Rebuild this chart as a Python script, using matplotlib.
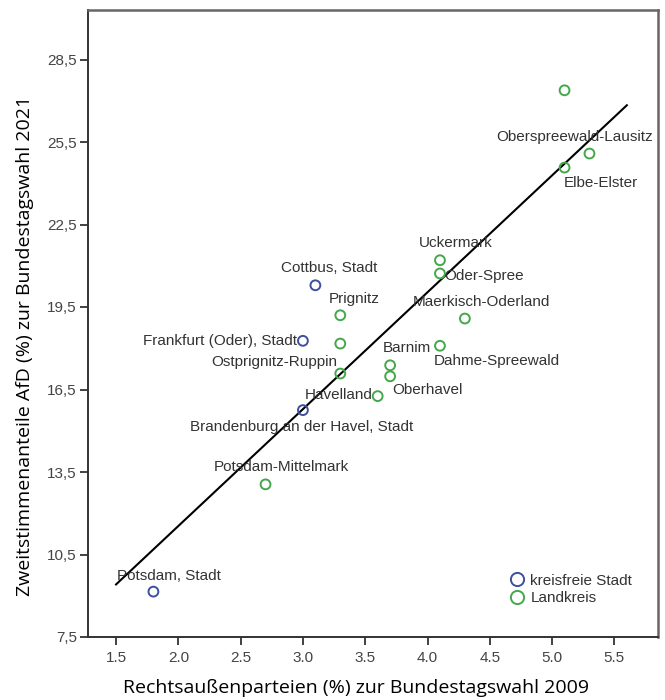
import numpy as np
import matplotlib
matplotlib.use("Agg")
import matplotlib.pyplot as plt
from matplotlib.lines import Line2D

# values
stadt_names = ["Potsdam, Stadt", "Brandenburg an der Havel, Stadt",
               "Frankfurt (Oder), Stadt", "Cottbus, Stadt"]
stadt_x = [1.8, 3.0, 3.0, 3.1]
stadt_y = [9.15, 15.75, 18.27, 20.29]

kreis_names = ["Potsdam-Mittelmark", "Havelland", "Ostprignitz-Ruppin", "",
               "Prignitz", "Oberhavel", "Barnim", "Dahme-Spreewald",
               "Maerkisch-Oderland", "Oder-Spree", "Uckermark", "Elbe-Elster",
               "Oberspreewald-Lausitz", ""]
kreis_x = [2.7, 3.6, 3.3, 3.3, 3.3, 3.7, 3.7, 4.1, 4.3, 4.1, 4.1, 5.1, 5.3, 5.1]
kreis_y = [13.05, 16.26, 17.08, 18.17, 19.2, 16.98, 17.38, 18.09, 19.08,
           20.72, 21.2, 24.57, 25.08, 27.38]

x_ticks = [1.5, 2.0, 2.5, 3.0, 3.5, 4.0, 4.5, 5.0, 5.5]
x_ticklabels = ["1.5", "2.0", "2.5", "3.0", "3.5", "4.0", "4.5", "5.0", "5.5"]
y_ticks = [7.5, 10.5, 13.5, 16.5, 19.5, 22.5, 25.5, 28.5]
y_ticklabels = ["7,5", "10,5", "13,5", "16,5", "19,5", "22,5", "25,5", "28,5"]

# label placement (offset in pixels, alignment)
LABEL_POS = {
    "Potsdam, Stadt": (16, 16, "center"),
    "Brandenburg an der Havel, Stadt": (-1, -17, "center"),
    "Frankfurt (Oder), Stadt": (-6, 0, "right"),
    "Cottbus, Stadt": (14, 17, "center"),
    "Potsdam-Mittelmark": (16, 17, "center"),
    "Havelland": (-5, 1, "right"),
    "Ostprignitz-Ruppin": (-3, 12, "right"),
    "Prignitz": (14, 16, "center"),
    "Oberhavel": (37, -14, "center"),
    "Barnim": (17, 17, "center"),
    "Dahme-Spreewald": (57, -15, "center"),
    "Maerkisch-Oderland": (17, 17, "center"),
    "Oder-Spree": (4, -3, "left"),
    "Uckermark": (16, 17, "center"),
    "Elbe-Elster": (36, -15, "center"),
    "Oberspreewald-Lausitz": (-15, 17, "center"),
}

BLUE = "#3d4f9f"
GREEN = "#43a84b"
TEXT = "#333333"
LABEL_FONT = ["Open Sans", "DejaVu Sans"]

plt.rcParams["font.family"] = ["Liberation Sans", "DejaVu Sans"]

fig = plt.figure(figsize=(6.65, 7.0), dpi=100)
ax = fig.add_axes([88 / 665, 63 / 700, 570 / 665, 627 / 700])

# fit line over all districts
all_x = np.array(stadt_x + kreis_x)
all_y = np.array(stadt_y + kreis_y)
slope, intercept = np.polyfit(all_x, all_y, 1)
line_x = np.array([1.5, 5.6])
ax.plot(line_x, slope * line_x + intercept, color="black", lw=1.5, zorder=2)

ax.scatter(stadt_x, stadt_y, s=50, facecolors="none", edgecolors=BLUE, linewidths=1.4, zorder=3)
ax.scatter(kreis_x, kreis_y, s=50, facecolors="none", edgecolors=GREEN, linewidths=1.4, zorder=3)

for names, xs, ys in [(stadt_names, stadt_x, stadt_y), (kreis_names, kreis_x, kreis_y)]:
    for name, x, y in zip(names, xs, ys):
        if not name:
            continue
        dx, dy, ha = LABEL_POS[name]
        ax.annotate(name, (x, y), xytext=(dx, dy), textcoords="offset pixels",
                    ha=ha, va="center", fontsize=11, color=TEXT, zorder=4)

ax.set_xlim(1.275, 5.85)
ax.set_ylim(7.5, 30.3)
ax.set_xticks(x_ticks)
ax.set_xticklabels(x_ticklabels)
ax.set_yticks(y_ticks)
ax.set_yticklabels(y_ticklabels)
ax.tick_params(axis="both", direction="out", length=6, width=1.3, labelsize=11,
               labelcolor="#444444", color="#333333")
ax.tick_params(axis="x", pad=4)
ax.tick_params(axis="y", pad=2)
for side in ["left", "bottom"]:
    ax.spines[side].set_linewidth(1.4)
    ax.spines[side].set_color("#333333")
for side in ["top", "right"]:
    ax.spines[side].set_linewidth(1.8)
    ax.spines[side].set_color("#666666")

handles = [
    Line2D([], [], ls="none", marker="o", mfc="none", mec=BLUE, mew=1.4, ms=9.5, label="kreisfreie Stadt"),
    Line2D([], [], ls="none", marker="o", mfc="none", mec=GREEN, mew=1.4, ms=9.5, label="Landkreis"),
]
ax.legend(handles=handles, loc="center left", bbox_to_anchor=(496 / 665, 1 - 589.5 / 700),
          bbox_transform=fig.transFigure, frameon=False, fontsize=11,
          handletextpad=0.35, handlelength=1.0, labelspacing=0.25, labelcolor=TEXT)

fig.text(356 / 665, 1 - 688 / 700, "Rechtsaußenparteien (%) zur Bundestagswahl 2009",
         ha="center", va="center", fontsize=14, family=LABEL_FONT)
fig.text(25 / 665, 1 - 346 / 700, "Zweitstimmenanteile AfD (%) zur Bundestagswahl 2021",
         ha="center", va="center", rotation=90, fontsize=14, family=LABEL_FONT)

fig.savefig("out.png", dpi=100)
